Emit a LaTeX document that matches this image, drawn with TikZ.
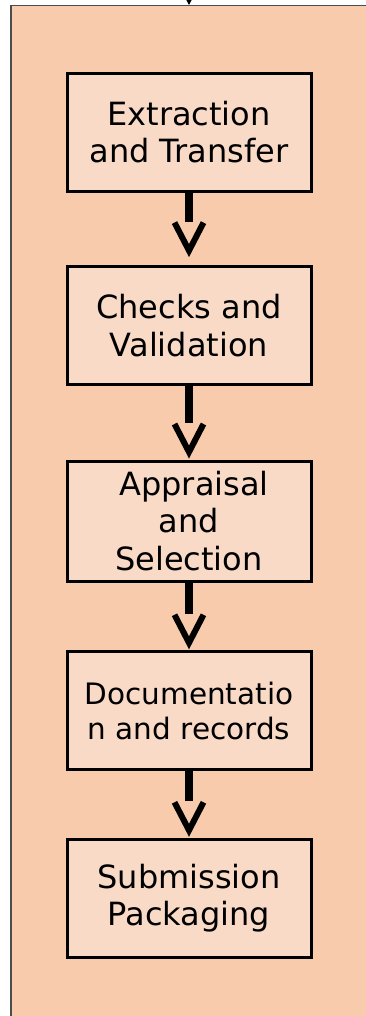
\documentclass[tikz,border=0pt]{standalone}
\usepackage{fontspec}
\setmainfont{DejaVu Sans}
\usetikzlibrary{arrows.meta,calc}
\definecolor{outerfill}{RGB}{247,203,172}
\definecolor{stepfill}{RGB}{249,218,198}
\begin{document}
\begin{tikzpicture}[
  stagebox/.style={draw=black, line width=3pt, fill=stepfill,
    minimum width=244pt, minimum height=118pt, align=center, inner sep=0pt,
    font=\fontsize{32}{37.5}\selectfont},
  framebox/.style={draw=black!70, line width=1.5pt, fill=outerfill,
    minimum width=380pt, minimum height=1030pt, anchor=north west, inner sep=0pt},
  shaft/.style={line width=8pt},
  vee/.style={line width=6pt, line join=miter, miter limit=10},
  feed/.style={line width=1pt, -{Triangle[length=5pt,width=5pt]}},
]
\useasboundingbox (0pt,0pt) rectangle (365pt,-1016pt);

% enclosing process frame (its right and lower sides run past the page edge)
\node[framebox] (frame) at (10pt,-5pt) {};
\coordinate (src) at (189pt,12pt);
\coordinate (entry) at (189pt,-5pt);
\draw[feed] (src) -- (entry);

% process stages
\node[stagebox] (b1) at (189pt,-132.2pt) {Extraction\\and Transfer};
\node[stagebox] (b2) at (189pt,-325.6pt) {Checks and\\Validation};
\node[stagebox, minimum height=120pt] (b3) at (189pt,-521pt)
  {\hspace*{0.32em}Appraisal\\and\\Selection};
\node[stagebox, font=\fontsize{29.5}{35}\selectfont] (b4) at (189pt,-710.8pt)
  {Documentatio\\n and records};
\node[stagebox] (b5) at (189pt,-898.3pt) {Submission\\Packaging};

% thick connectors with open vee heads
\foreach \a/\b/\o in {b1/b2/8.5pt, b2/b3/1.5pt, b3/b4/1.5pt, b4/b5/1.5pt} {
  \coordinate (tip) at ($(\b.north)+(0pt,\o)$);
  \draw[shaft] (\a.south) -- ($(tip)+(0pt,35pt)$);
  \draw[vee] ($(tip)+(-14.5pt,34pt)$) -- ($(tip)+(0pt,6pt)$) -- ($(tip)+(14.5pt,34pt)$);
}
\end{tikzpicture}
\end{document}
